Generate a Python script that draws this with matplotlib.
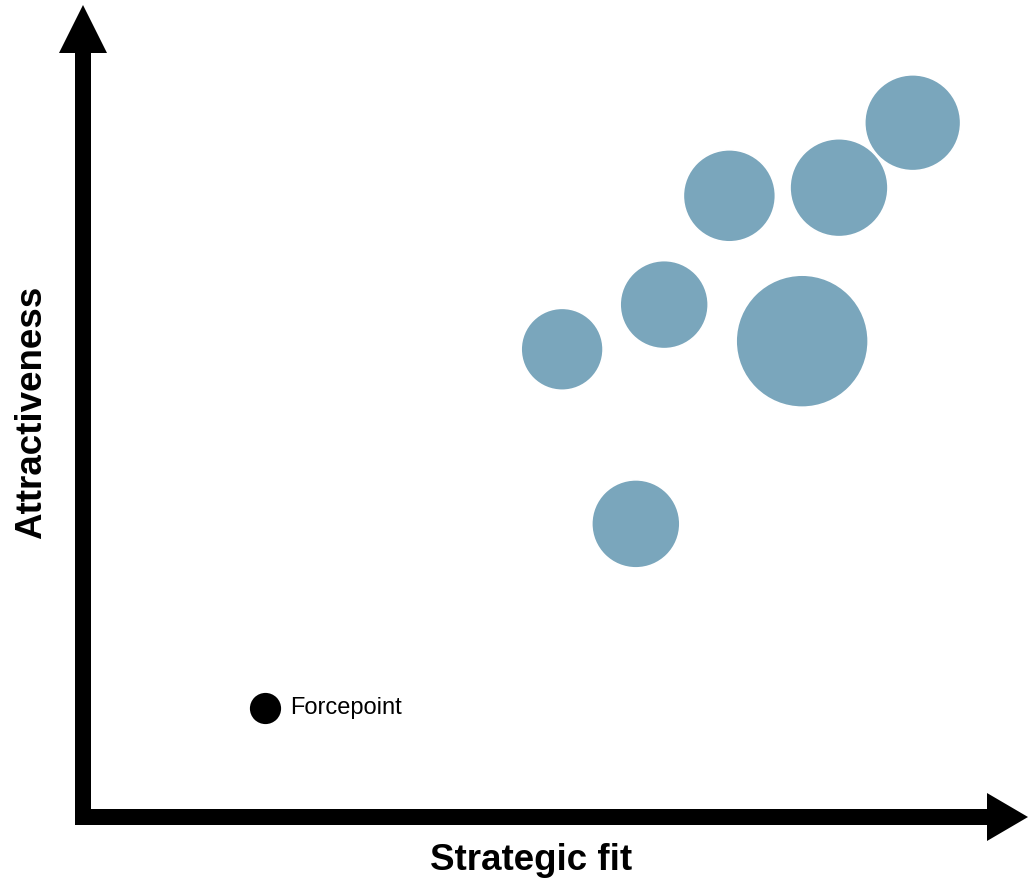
import matplotlib
matplotlib.use("Agg")
import matplotlib.pyplot as plt
from matplotlib.patches import FancyArrow

plt.rcParams['font.family'] = ['Liberation Sans', 'DejaVu Sans']

# strategic fit vs attractiveness, bubble size ~ relative scale
fit = [5.07, 6.15, 6.84, 8.00, 8.78, 7.61, 5.85]
attract = [5.76, 6.31, 7.65, 7.75, 8.55, 5.86, 3.61]
size = [16.8, 19.4, 21.2, 24.0, 23.0, 43.6, 19.4]

own_name = 'Forcepoint'
own_fit = [1.93]
own_attract = [1.34]
own_size = [2.7]

W, H = 1028, 883
fig = plt.figure(figsize=(W / 100, H / 100), dpi=100)

# axes whose origin sits on the corner of the arrows
ax = fig.add_axes([83 / W, (H - 817) / H, (W - 83) / W, (817 - 5) / H])
ax.set_xlim(0, 10)
ax.set_ylim(0, 10)
ax.axis('off')

# marker size in pt^2 from size value (radius^2 / 100 in px)
to_s = lambda v: v * 100 * (2 * 0.72) ** 2

ax.scatter(fit, attract, s=[to_s(v) for v in size], color='#7aa6bc',
           edgecolors='white', linewidths=1.2, zorder=3, clip_on=False)
ax.scatter(own_fit, own_attract, s=[to_s(v) for v in own_size], color='black',
           edgecolors='white', linewidths=1.2, zorder=3, clip_on=False)
ax.annotate(own_name, (own_fit[0], own_attract[0]), xytext=(18, 0),
            textcoords='offset points', fontsize=17, va='center', ha='left')

# arrows drawn in pixel space on a full-figure overlay
ov = fig.add_axes([0, 0, 1, 1], zorder=-1)
ov.set_xlim(0, W)
ov.set_ylim(H, 0)
ov.axis('off')
ov.add_patch(FancyArrow(83, 825, 0, -820, width=16, head_width=48, head_length=48,
                        length_includes_head=True, color='black', lw=0))
ov.add_patch(FancyArrow(75, 817, W - 75, 0, width=16, head_width=48, head_length=41,
                        length_includes_head=True, color='black', lw=0))

fig.text(531 / W, 1 - 860 / H, 'Strategic fit', fontsize=26.5, fontweight='bold',
         ha='center', va='center')
fig.text(32 / W, 1 - 412 / H, 'Attractiveness', fontsize=26.5, fontweight='bold',
         ha='center', va='center', rotation=90)

fig.savefig('out.png', dpi=100)
